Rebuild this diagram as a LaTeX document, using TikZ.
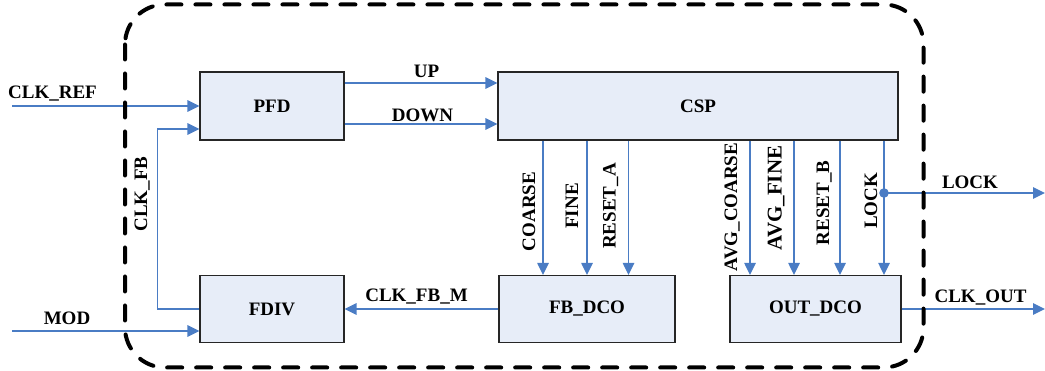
\documentclass[tikz,border=0pt]{standalone}
\usepackage{fontspec}
\setmainfont{Liberation Serif}
\usetikzlibrary{arrows.meta}
\definecolor{sigblue}{RGB}{74,124,196}
\definecolor{boxfill}{RGB}{231,237,248}
\tikzset{
  blk/.style={draw=black!85, line width=1.3pt, fill=boxfill, inner sep=0pt,
    font=\bfseries\fontsize{19}{22}\selectfont},
  sig/.style={draw=sigblue, line width=1.5pt},
  sigarr/.style={sig, -{Triangle[length=12pt,width=11.5pt]}},
  lbl/.style={font=\bfseries\fontsize{19}{22}\selectfont, inner sep=0pt, anchor=base},
  vlbl/.style={lbl, rotate=90},
  border/.style={draw=black, line width=4pt, line cap=round, dash pattern=on 15pt off 14pt, rounded corners=40pt}
}
\begin{document}
\begin{tikzpicture}[x=1pt,y=-1pt]
\useasboundingbox (0,0) rectangle (1045,371);
% blocks
\node[blk, minimum width=144pt, minimum height=68pt] (pfd) at (272,106) {PFD};
\node[blk, minimum width=400pt, minimum height=68pt] (csp) at (698,106) {CSP};
\node[blk, minimum width=144pt, minimum height=67pt] (fdiv) at (272,309) {FDIV};
\node[blk, minimum width=176pt, minimum height=67pt] (fbdco) at (587,309) {FB\_DCO};
\node[blk, minimum width=171pt, minimum height=67pt] (outdco) at (815.5,309) {OUT\_DCO};
% free ends
\coordinate (refin) at (12,106);
\coordinate (modin) at (12,331);
\coordinate (fbx) at (157.5,0);
\coordinate (lockout) at (1045,193);
\coordinate (clkout) at (1045,309);
\coordinate (xa) at (543,0);
\coordinate (xb) at (587,0);
\coordinate (xc) at (628.5,0);
\coordinate (xd) at (750,0);
\coordinate (xe) at (794,0);
\coordinate (xf) at (840,0);
\coordinate (xg) at (884,0);
\coordinate (lockdot) at (884,193);
% PFD -> CSP
\draw[sigarr] ([yshift=23pt]pfd.east) -- ([yshift=23pt]csp.west);
\draw[sigarr] ([yshift=-18pt]pfd.east) -- ([yshift=-18pt]csp.west);
\node[lbl] (lup) at (426.5,78) {UP};
\node[lbl] (ldown) at (422.5,121.7) {DOWN};
% inputs
\draw[sigarr] (refin) -- (pfd.west);
\node[lbl] (lref) at (52.5,99) {CLK\_REF};
\draw[sigarr] (modin) -- ([yshift=-22pt]fdiv.west);
\node[lbl] (lmod) at (67,325) {MOD};
% feedback
\draw[sigarr] (fdiv.west) -- (fdiv.west -| fbx) -- ([yshift=-23pt]pfd.west -| fbx) -- ([yshift=-23pt]pfd.west);
\node[vlbl] (lfb) at (147,194) {CLK\_FB};
\draw[sigarr] (fbdco.west) -- (fdiv.east);
\node[lbl] (lfbm) at (416.5,302) {CLK\_FB\_M};
% vertical control signals
\draw[sigarr] (xa |- csp.south) -- (xa |- fbdco.north);
\draw[sigarr] (xb |- csp.south) -- (xb |- fbdco.north);
\draw[sigarr] (xc |- csp.south) -- (xc |- fbdco.north);
\draw[sigarr] (xd |- csp.south) -- (xd |- outdco.north);
\draw[sigarr] (xe |- csp.south) -- (xe |- outdco.north);
\draw[sigarr] (xf |- csp.south) -- (xf |- outdco.north);
\draw[sigarr] (xg |- csp.south) -- (xg |- outdco.north);
\node[vlbl] (lcoarse) at (535,211.5) {COARSE};
\node[vlbl] (lfine) at (578,206) {FINE};
\node[vlbl] (lresa) at (615.5,206) {RESET\_A};
\node[vlbl] (lavgc) at (737,207) {AVG\_COARSE};
\node[vlbl, font=\bfseries\fontsize{21}{24}\selectfont] (lavgf) at (781.5,198) {AVG\_FINE};
\node[vlbl] (lresb) at (829,203) {RESET\_B};
\node[vlbl] (llock) at (877,201) {LOCK};
% lock out
\draw[sigarr] (lockdot) -- (lockout);
\fill[sigblue] (lockdot) circle (4.8pt);
\node[lbl] (llockout) at (970,189) {LOCK};
% clk out
\draw[sigarr] (outdco.east) -- (clkout);
\node[lbl] (lclkout) at (980.5,302.7) {CLK\_OUT};
% dashed boundary
\draw[border] (125,4.5) rectangle (923.5,367.5);
\end{tikzpicture}
\end{document}
